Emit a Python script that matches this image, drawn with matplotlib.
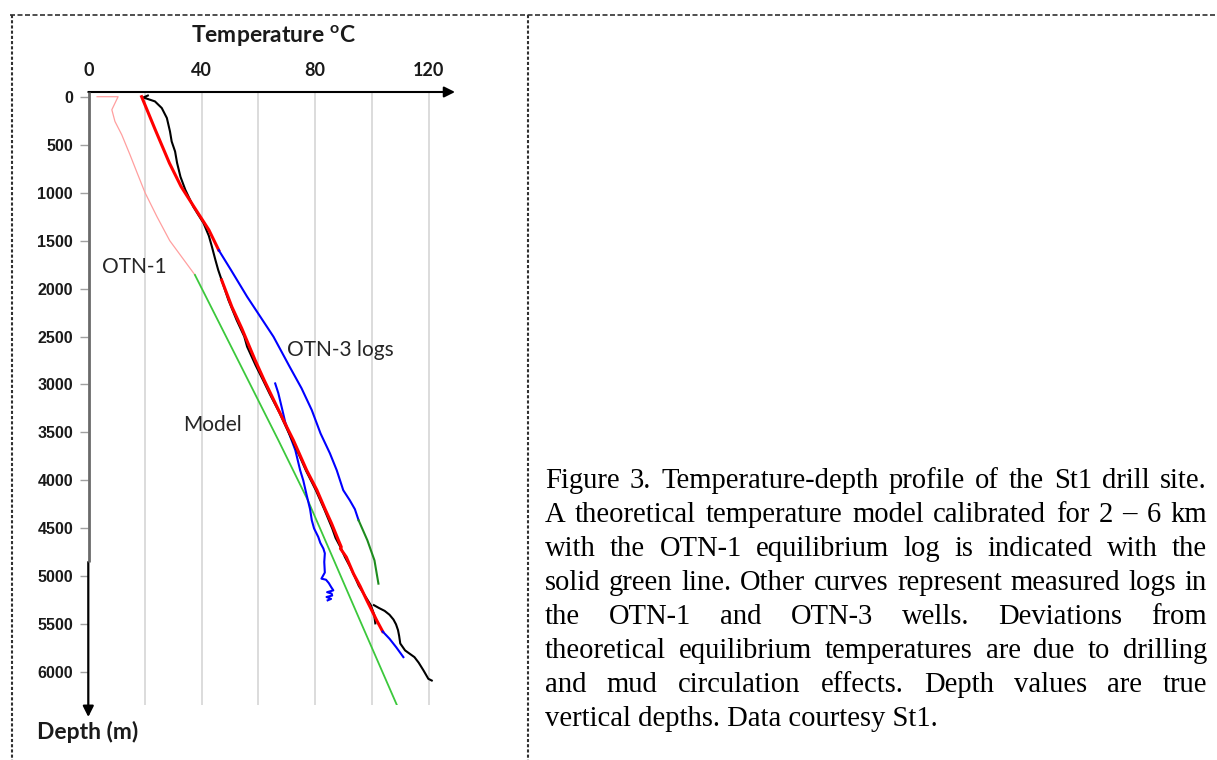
import matplotlib
matplotlib.use("Agg")
import matplotlib.pyplot as plt
from matplotlib.lines import Line2D

# ---------------- data ----------------
temp_ticks = [0, 40, 80, 120]
grid_temps = [20, 40, 60, 80, 100, 120]
depth_ticks = [0, 500, 1000, 1500, 2000, 2500, 3000, 3500, 4000, 4500, 5000, 5500, 6000]

# OTN-1 shallow log (light red)
pink_depth = [0, 0, 136, 258, 397, 605, 800, 1000, 1250, 1500, 1858]
pink_temp = [3.1, 10.5, 8.3, 9.4, 11.8, 14.7, 17.3, 20.0, 24.2, 28.7, 37.6]

# Theoretical model (green)
model_depth = [1858, 2800, 3580, 4200, 4730, 5460, 6341]
model_temp = [37.6, 53.7, 67.0, 77.3, 85.1, 95.8, 108.8]

# OTN-1 logs (red)
red1_depth = [0, 344, 692, 936, 1145, 1388, 1600]
red1_temp = [18.8, 23.6, 28.6, 32.7, 37.2, 42.5, 46.0]
red2_depth = [1910, 2189, 2414, 2745, 2954, 3200, 3444, 3580, 3894, 4100, 4300, 4450,
              4624, 4694, 4710, 4800, 4972, 5100, 5250, 5459, 5575]
red2_temp = [47.0, 50.6, 54.1, 58.8, 62.0, 66.0, 70.0, 72.3, 77.0, 80.6, 83.5, 85.8,
             88.2, 89.2, 88.9, 91.0, 93.5, 95.8, 98.2, 101.7, 103.8]

# OTN-1 log (black)
black_depth = [-12, 8, 49, 118, 222, 362, 467, 571, 690, 835, 970, 1145, 1213, 1316, 1450,
               1565, 1700, 1806, 1910, 2119, 2328, 2500, 2606, 2800, 2954, 3100, 3300, 3500,
               3700, 3900, 4100, 4300, 4500, 4600, 4700, 4800, 4900, 5000, 5100, 5200, 5300,
               5400, 5490]
black_temp = [21.0, 19.4, 23.5, 25.9, 27.7, 28.8, 29.4, 30.6, 31.3, 32.5, 34.2, 37.0, 38.4,
              40.6, 42.5, 43.6, 44.8, 45.8, 47.0, 49.4, 52.3, 55.0, 56.0, 59.0, 61.6, 64.0,
              67.5, 70.6, 73.8, 76.8, 80.2, 83.2, 86.0, 87.2, 89.0, 90.5, 92.3, 93.9, 95.4,
              97.5, 99.6, 100.8, 101.2]
black_tail_depth = [5300, 5330, 5360, 5400, 5450, 5500, 5560, 5620, 5700, 5772, 5842, 5900,
                    5981, 6068, 6086]
black_tail_temp = [100.7, 102.5, 104.5, 106.2, 107.6, 108.5, 109.2, 109.6, 110.0, 111.7,
                   115.0, 116.5, 118.2, 119.9, 121.1]

# OTN-3 logs (blue / dark green)
blue1_depth = [1600, 1806, 2085, 2300, 2502, 2815, 3040, 3267, 3511, 3718, 3894, 4102,
               4207, 4300, 4415]
blue1_temp = [46.0, 50.3, 56.0, 60.8, 65.3, 71.0, 75.2, 78.8, 81.9, 85.2, 87.6, 89.9,
              92.2, 94.0, 95.3]
dkgreen_depth = [4415, 4624, 4833, 5076]
dkgreen_temp = [95.3, 98.4, 100.9, 102.3]
blue2_depth = [2989, 3090, 3250, 3389, 3550, 3685, 3894, 4000, 4154, 4300, 4415, 4500,
               4590, 4650, 4711, 4760, 4850, 4960, 5024, 5035, 5070, 5110, 5146, 5165,
               5180, 5200, 5215, 5235, 5250]
blue2_temp = [65.9, 67.0, 68.3, 69.4, 71.3, 73.0, 74.7, 75.8, 77.0, 78.2, 78.8, 79.6,
              81.1, 81.8, 82.9, 83.4, 83.2, 83.4, 82.2, 83.8, 84.8, 85.6, 86.4, 84.2,
              85.8, 86.0, 84.0, 85.6, 84.4]
blue3_depth = [5575, 5650, 5740, 5842]
blue3_temp = [103.8, 106.2, 108.6, 111.1]

caption_lines = [
    "Figure 3. Temperature-depth profile of the St1 drill site.",
    "A theoretical temperature model calibrated for 2 \u2013 6 km",
    "with the OTN-1 equilibrium log is indicated with the",
    "solid green line. Other curves represent measured logs in",
    "the OTN-1 and OTN-3 wells. Deviations from",
    "theoretical equilibrium temperatures are due to drilling",
    "and mud circulation effects. Depth values are true",
    "vertical depths. Data courtesy St1.",
]

# ---------------- figure ----------------
W, H = 1217, 760
plt.rcParams["mathtext.fontset"] = "custom"
plt.rcParams["mathtext.rm"] = "Lato"
plt.rcParams["mathtext.bf"] = "Lato:bold"
fig = plt.figure(figsize=(W / 100, H / 100), dpi=100)
fig.patch.set_facecolor("white")

def fx(px):
    return px / W

def fy(py):
    return 1 - py / H

ax_left, ax_right, ax_top, ax_bottom = 88.3, 455, 92, 705
ax = fig.add_axes([fx(ax_left), fy(ax_bottom), fx(ax_right - ax_left), (ax_bottom - ax_top) / H])
ax.set_xlim(0, 129.3)
ax.set_ylim(6341, -49)
for s in ax.spines.values():
    s.set_visible(False)
ax.patch.set_alpha(0)

for g in grid_temps:
    ax.plot([g, g], [-49, 6341], color="#d9d9d9", lw=1.3, zorder=0.5)

# curves
ax.plot(pink_temp, pink_depth, color="#ff9f9f", lw=0.9, zorder=2)
ax.plot(model_temp, model_depth, color="#3cc83c", lw=1.3, zorder=2)
ax.plot(blue2_temp, blue2_depth, color="#0000ff", lw=1.5, zorder=2.5)
ax.plot(black_temp, black_depth, color="black", lw=1.5, zorder=3)
ax.plot(black_tail_temp, black_tail_depth, color="black", lw=1.5, zorder=3)
ax.plot(red1_temp, red1_depth, color="#ff0000", lw=2.2, zorder=4)
ax.plot(red2_temp, red2_depth, color="#ff0000", lw=2.2, zorder=4)
ax.plot(blue1_temp, blue1_depth, color="#0000ff", lw=1.5, zorder=4)
ax.plot(dkgreen_temp, dkgreen_depth, color="#1e8c1e", lw=1.5, zorder=4)
ax.plot(blue3_temp, blue3_depth, color="#0000ff", lw=1.5, zorder=4.5)

# axes lines with arrows
ax.annotate("", xy=(1.0, 1.0), xytext=(0.0, 1.0), xycoords="axes fraction",
            arrowprops=dict(arrowstyle="-|>", color="black", lw=1.5, mutation_scale=16,
                            shrinkA=0, shrinkB=0), annotation_clip=False)
ax.plot([0.15, 0.15], [-49, 4850], color="#6a6a6a", lw=2.0, clip_on=False, zorder=5,
        solid_capstyle="butt")
ax.annotate("", xy=(0.0, -0.0196), xycoords="axes fraction",
            xytext=(0.0, 4850), textcoords=("axes fraction", "data"),
            arrowprops=dict(arrowstyle="-|>", color="black", lw=1.6, mutation_scale=16,
                            shrinkA=0, shrinkB=0), annotation_clip=False)

# ticks
ax.set_yticks(depth_ticks)
ax.set_yticklabels([str(d) for d in depth_ticks], fontfamily="Liberation Sans",
                   fontweight="bold", fontsize=11.5, color="#1a1a1a")
ax.tick_params(axis="y", direction="out", length=6, width=1, color="#a0a0a0", pad=5)
ax.xaxis.set_ticks_position("top")
ax.set_xticks(temp_ticks)
ax.set_xticklabels([str(t) for t in temp_ticks], fontfamily="Lato", fontweight="bold",
                   fontsize=13, color="#1a1a1a")
ax.tick_params(axis="x", length=0, pad=9)

# labels
fig.text(fx(274), fy(36), r"Temperature $^{\mathbf{o}}$C", ha="center", va="center",
         fontfamily="Lato", fontweight="bold", fontsize=16.5, color="#1a1a1a")
fig.text(fx(37), fy(732), "Depth (m)", ha="left", va="center",
         fontfamily="Lato", fontweight="bold", fontsize=16.5, color="#1a1a1a")
ax.text(4.8, 1775, "OTN-1", ha="left", va="center", fontfamily="Lato", fontsize=15, color="#262626")
ax.text(70.1, 2641, "OTN-3 logs", ha="left", va="center", fontfamily="Lato", fontsize=15, color="#262626")
ax.text(33.5, 3423, "Model", ha="left", va="center", fontfamily="Lato", fontsize=15, color="#262626")

# borders
fig.add_artist(Line2D([fx(10), 1], [fy(15), fy(15)], transform=fig.transFigure,
                      color="#303030", lw=1.2, linestyle=(0, (3, 1.5))))
fig.add_artist(Line2D([fx(12), fx(12)], [fy(15), 0], transform=fig.transFigure,
                      color="#303030", lw=1.5, linestyle=(0, (1.5, 1))))
fig.add_artist(Line2D([fx(528), fx(528)], [fy(15), 0], transform=fig.transFigure,
                      color="#303030", lw=1.5, linestyle=(0, (1.5, 1))))

# caption (justified)
renderer = fig.canvas.get_renderer()
cap_left, cap_right = 545, 1207
cap_font = dict(fontfamily="Liberation Serif", color="black")
probe = fig.text(0, 0, caption_lines[-1], fontsize=10, **cap_font)
w10 = probe.get_window_extent(renderer).width
probe.remove()
cap_size = 10 * (938 - cap_left) / w10
for i, line in enumerate(caption_lines):
    base_y = 488 + 34 * i
    if i == len(caption_lines) - 1:
        fig.text(fx(cap_left), fy(base_y), line, fontsize=cap_size, ha="left", va="baseline", **cap_font)
        continue
    words = line.split(" ")
    widths = []
    for wd in words:
        t = fig.text(0, 0, wd, fontsize=cap_size, **cap_font)
        widths.append(t.get_window_extent(renderer).width)
        t.remove()
    gap = (cap_right - cap_left - sum(widths)) / (len(words) - 1)
    x = cap_left
    for wd, wdt in zip(words, widths):
        fig.text(fx(x), fy(base_y), wd, fontsize=cap_size, ha="left", va="baseline", **cap_font)
        x += wdt + gap

fig.savefig("out.png", dpi=100, facecolor="white")
